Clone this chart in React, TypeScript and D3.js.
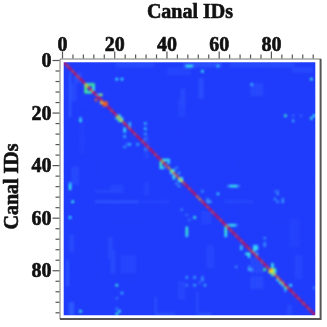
import { useEffect, useRef } from "react";
import * as d3 from "d3";

const cellCount = 97;
const majorTicks = [0, 20, 40, 60, 80];
const allTicks = d3.range(0, 97, 4);

// main diagonal, canal 0..96
const diagonal = [
  1, 0.95, 1, 0.95, 1, 0.95, 1, 1, 0.78, 0.9, 0.95, 1, 0.95, 1, 0.95, 0.88, 0.9, 1, 0.95, 1, 0.9, 0.8, 0.75,
  0.95, 1, 0.95, 1, 0.95, 1, 1, 0.95, 1, 0.95, 1, 1, 0.95, 1, 0.95, 0.95, 0.9, 0.85, 0.62, 0.9, 0.9, 0.8, 0.7,
  0.95, 1, 0.95, 1, 1, 0.9, 0.85, 0.95, 1, 0.95, 1, 0.95, 1, 1, 0.95, 1, 0.95, 1, 0.95, 1, 0.95, 1, 0.95, 1, 1,
  0.95, 0.95, 1, 0.95, 1, 0.95, 1, 0.95, 0.85, 0.72, 0.85, 0.9, 0.95, 0.9, 1, 0.95, 1, 0.95, 1, 0.95, 1, 0.95,
  1, 0.95, 1, 1,
];

// [row, col, value]
const hotCells: [number, number, number][] = [
  [8, 9, 0.42], [8, 10, 0.48], [8, 11, 0.5], [9, 8, 0.55], [10, 8, 0.52], [11, 8, 0.5], [9, 11, 0.38], [11, 9, 0.42],
  [11, 10, 0.45], [10, 11, 0.35], [14, 12, 0.9], [12, 14, 0.6], [12, 13, 0.25], [15, 14, 0.75], [16, 15, 0.9], [15, 16, 0.9],
  [20, 21, 0.35], [21, 20, 0.42], [22, 21, 0.45], [21, 22, 0.3], [22, 6, 0.36], [21, 6, 0.22], [6, 20, 0.33], [6, 22, 0.33],
  [25, 23, 0.28], [26, 23, 0.3], [28, 23, 0.22], [23, 25, 0.25], [24, 25, 0.2], [25, 31, 0.28], [23, 31, 0.25], [27, 31, 0.2],
  [31, 25, 0.25], [31, 28, 0.22], [32, 23, 0.18], [31, 24, 0.14], [33, 31, 0.16], [29, 31, 0.16],
  [37, 37, 0.4], [37, 38, 0.36], [37, 39, 0.36], [37, 40, 0.3], [38, 37, 0.42], [39, 37, 0.42], [40, 37, 0.36],
  [38, 40, 0.25], [40, 38, 0.25], [41, 42, 0.3], [42, 41, 0.3], [44, 42, 0.36], [43, 42, 0.3], [42, 44, 0.2], [45, 44, 0.3],
  [44, 45, 0.3], [40, 43, 0.15], [46, 43, 0.15], [47, 44, 0.18],
  [1, 47, 0.33], [1, 48, 0.38], [1, 49, 0.3], [3, 53, 0.36], [1, 59, 0.3], [6, 95, 0.4], [8, 72, 0.25],
  [20, 85, 0.4], [21, 95, 0.38], [20, 96, 0.33], [22, 88, 0.22], [20, 88, 0.1], [20, 91, 0.1],
  [47, 2, 0.34], [48, 2, 0.38], [46, 2, 0.24], [53, 3, 0.37], [59, 2, 0.33], [85, 20, 0.38], [88, 22, 0.24],
  [95, 6, 0.38], [96, 20, 0.38], [95, 21, 0.36], [94, 20, 0.14], [90, 20, 0.12],
  [47, 64, 0.33], [47, 65, 0.38], [47, 66, 0.33], [47, 63, 0.16], [47, 67, 0.14], [50, 59, 0.3], [59, 50, 0.38], [49, 53, 0.18],
  [52, 55, 0.16], [53, 55, 0.2], [53, 56, 0.2],
  [62, 63, 0.25], [62, 64, 0.36], [62, 65, 0.36], [62, 66, 0.2], [63, 47, 0.36], [64, 47, 0.4], [65, 47, 0.4], [66, 47, 0.3],
  [63, 62, 0.36], [64, 62, 0.4], [65, 62, 0.4], [66, 62, 0.32], [60, 48, 0.12], [56, 45, 0.14], [58, 47, 0.12],
  [71, 68, 0.28], [70, 68, 0.22], [71, 73, 0.34], [71, 74, 0.34], [70, 73, 0.28], [70, 74, 0.26], [73, 70, 0.36], [73, 71, 0.34],
  [74, 71, 0.3], [72, 73, 0.25], [73, 73, 0.28], [73, 74, 0.25], [67, 77, 0.16], [69, 77, 0.18], [70, 77, 0.14], [78, 66, 0.16],
  [79, 71, 0.22], [79, 72, 0.2], [78, 71, 0.16], [75, 75, 0.2],
  [77, 80, 0.38], [79, 77, 0.5], [79, 80, 0.75], [80, 79, 0.68], [79, 81, 0.45], [81, 80, 0.42], [80, 81, 0.3], [78, 80, 0.3], [81, 81, 0.5],
  [82, 82, 0.36], [83, 82, 0.3], [83, 83, 0.3], [84, 83, 0.38], [85, 84, 0.3], [85, 87, 0.34], [86, 85, 0.42], [87, 85, 0.2],
  [50, 82, 0.16], [52, 81, 0.18], [52, 84, 0.16], [53, 84, 0.2], [49, 82, 0.12], [53, 82, 0.16], [49, 81, 0.1],
  [82, 47, 0.2], [82, 50, 0.2], [82, 53, 0.16], [85, 50, 0.2], [85, 47, 0.14], [85, 54, 0.22], [83, 53, 0.18], [84, 52, 0.1],
  [86, 96, 0.14],
];

// faint rectangles of raised background: [rowFrom, rowTo, colFrom, colTo, value]
const faintBlocks: [number, number, number, number, number][] = [
  [0, 1, 20, 34, 0.05], [0, 1, 46, 60, 0.06], [0, 1, 64, 88, 0.05], [2, 4, 40, 48, 0.04], [2, 3, 88, 95, 0.05],
  [6, 13, 52, 53, 0.06], [8, 12, 72, 76, 0.05], [10, 16, 45, 46, 0.05], [4, 20, 2, 2, 0.08], [8, 14, 3, 4, 0.05], [4, 7, 4, 6, 0.06],
  [40, 46, 3, 5, 0.05], [49, 49, 12, 22, 0.05], [53, 53, 12, 28, 0.08], [47, 48, 18, 22, 0.04], [53, 53, 30, 40, 0.04],
  [72, 80, 18, 19, 0.05], [74, 80, 22, 27, 0.04], [67, 74, 17, 18, 0.05], [76, 85, 1, 1, 0.08], [92, 96, 2, 3, 0.09],
  [66, 72, 2, 3, 0.05], [24, 34, 6, 7, 0.03], [14, 20, 44, 46, 0.04], [28, 36, 31, 32, 0.04], [46, 50, 31, 32, 0.04],
  [57, 61, 53, 56, 0.04], [70, 78, 55, 57, 0.04], [75, 80, 72, 76, 0.05], [82, 86, 72, 76, 0.05], [74, 82, 89, 91, 0.04],
  [90, 96, 35, 35, 0.06], [88, 96, 51, 51, 0.05], [84, 90, 44, 46, 0.04], [60, 70, 87, 90, 0.03], [53, 53, 62, 72, 0.05],
  [93, 96, 86, 87, 0.05], [96, 96, 36, 42, 0.07], [96, 96, 52, 56, 0.07],
];

const colorStops = [0, 0.08, 0.2, 0.33, 0.5, 0.7, 0.85, 1];
const colorValues = ["#1e38fa", "#2e56ff", "#38a4ff", "#38f4ff", "#40ff80", "#f0ff20", "#ff8a10", "#ff0020"];

const fontFamily = "'Liberation Serif', serif";

export default function App() {
  const topAxis = useRef<SVGGElement>(null);
  const leftAxis = useRef<SVGGElement>(null);

  const x = d3.scaleLinear().domain([0, 96]).range([62, 312.7]);
  const y = d3.scaleLinear().domain([0, 96]).range([60, 312.3]);
  const color = d3.scaleLinear<string>().domain(colorStops).range(colorValues).clamp(true);

  // build the matrix
  const matrix = d3.range(cellCount).map(() => d3.range(cellCount).map(() => 0.01));
  faintBlocks.forEach(([r0, r1, c0, c1, v]) => {
    for (let r = r0; r <= r1; r++)
      for (let c = c0; c <= c1; c++) {
        matrix[r][c] = Math.max(matrix[r][c], v);
      }
  });
  hotCells.forEach(([r, c, v]) => {
    matrix[r][c] = Math.max(matrix[r][c], v);
  });
  diagonal.forEach((v, i) => {
    matrix[i][i] = v;
  });

  const cells = matrix.flatMap((row, r) => row.map((v, c) => ({ r, c, v })));
  const cellW = (315.3 - 63.7) / cellCount;
  const cellH = (315.3 - 62.3) / cellCount;

  useEffect(() => {
    const style = (g: d3.Selection<SVGGElement, unknown, null, undefined>, horizontal: boolean) => {
      g.select(".domain").remove();
      g.selectAll("line").attr("stroke", "#555").attr("stroke-width", 1.2);
      g.selectAll<SVGLineElement, number>(".tick line").each(function (d) {
        const len = majorTicks.includes(d) ? 7 : 4;
        d3.select(this).attr(horizontal ? "y2" : "x2", -len);
      });
      g.selectAll<SVGTextElement, number>("text")
        .attr("font-family", fontFamily)
        .attr("font-weight", "bold")
        .attr("font-size", 20)
        .attr("fill", "#111")
        .attr("stroke", "#111")
        .attr("stroke-width", 0.6)
        .text((d) => (majorTicks.includes(d) ? String(d) : ""));
    };
    const top = d3.select(topAxis.current!);
    top.attr("transform", "translate(0,58.5)").call(d3.axisTop(x).tickValues(allTicks).tickPadding(2));
    style(top, true);
    const left = d3.select(leftAxis.current!);
    left.attr("transform", "translate(59.5,0)").call(d3.axisLeft(y).tickValues(allTicks).tickPadding(2));
    style(left, false);
    left.selectAll("text").attr("dy", "0.33em");
  }, []);

  return (
    <svg width={327} height={327} style={{ position: "absolute", left: 0, top: 0, background: "#fff" }}>
      <defs>
        <filter id="soft" x="-5%" y="-5%" width="110%" height="110%" colorInterpolationFilters="sRGB">
          <feGaussianBlur stdDeviation="0.8" />
        </filter>
        <filter id="softText" x="-5%" y="-5%" width="110%" height="110%" colorInterpolationFilters="sRGB">
          <feGaussianBlur stdDeviation="0.35" />
        </filter>
        <clipPath id="heatClip">
          <rect x={63.7} y={62.3} width={251.6} height={253} />
        </clipPath>
      </defs>
      <g clipPath="url(#heatClip)">
        <g filter="url(#soft)">
          <rect x={61} y={60} width={257} height={258} fill={color(0.01)} />
          {cells.map((d) => (
            <rect
              key={d.r + "-" + d.c}
              x={63.7 + d.c * cellW}
              y={62.3 + d.r * cellH}
              width={cellW + 0.1}
              height={cellH + 0.1}
              fill={color(d.v)}
            />
          ))}
        </g>
      </g>
      <path d="M60 319.3V59H321" fill="none" stroke="#777" strokeWidth={1} />
      <path d="M320.6 59V319H60" fill="none" stroke="#555" strokeWidth={2} />
      <g filter="url(#softText)">
        <g ref={topAxis} />
        <g ref={leftAxis} />
        <text x={190} y={18} textAnchor="middle" fontFamily={fontFamily} fontWeight="bold" fontSize={20} fill="#111" stroke="#111" strokeWidth={0.6}>
          Canal IDs
        </text>
        <text
          transform="translate(18,186.5) rotate(-90)"
          textAnchor="middle"
          fontFamily={fontFamily}
          fontWeight="bold"
          fontSize={20}
          fill="#111"
          stroke="#111"
          strokeWidth={0.6}
        >
          Canal IDs
        </text>
      </g>
    </svg>
  );
}
